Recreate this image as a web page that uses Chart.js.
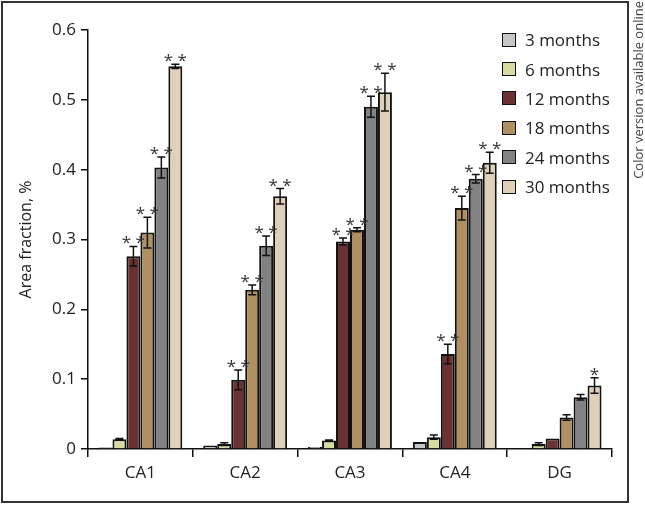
<!DOCTYPE html>
<html>
<head>
<meta charset="utf-8">
<script src="https://cdn.jsdelivr.net/npm/chart.js@4"></script>
<style>
  body { margin: 0; background: #fff; font-family: "Open Sans", sans-serif; }
  #wrap { position: relative; width: 645px; height: 505px; }
  #frame { position: absolute; left: 1px; top: 1px; width: 628px; height: 502px; box-sizing: border-box; border: 2px solid #333; pointer-events: none; }
  #note { position: absolute; left: 630px; top: 1px; writing-mode: vertical-rl; transform: rotate(180deg); font-size: 13px; color: #444; line-height: 16px; white-space: nowrap; }
  #legend { position: absolute; left: 502px; top: 25px; }
  .item { height: 29.4px; display: flex; align-items: center; font-size: 17px; color: #222; }
  .box { width: 12px; height: 12px; border: 1.5px solid #111; margin-right: 9px; }
</style>
</head>
<body>
<div id="wrap">
  <canvas id="chart" width="645" height="505"></canvas>
  <div id="frame"></div>
  <div id="note">Color version available online</div>
  <div id="legend"></div>
</div>
<script>
const categories = ["CA1", "CA2", "CA3", "CA4", "DG"];
const seriesLabels = ["3 months", "6 months", "12 months", "18 months", "24 months", "30 months"];
const colors = ["#c6c6c6", "#d9d9a2", "#6a3232", "#b09062", "#828282", "#dfd1b9"];

const m3 = [0.002, 0.005, 0.003, 0.010, 0.001];
const m6 = [0.014, 0.007, 0.012, 0.017, 0.007];
const m12 = [0.276, 0.099, 0.297, 0.136, 0.015];
const m18 = [0.310, 0.228, 0.314, 0.345, 0.045];
const m24 = [0.403, 0.291, 0.490, 0.387, 0.074];
const m30 = [0.548, 0.362, 0.511, 0.410, 0.091];

const e3 = [0, 0, 0, 0, 0];
const e6 = [0.001, 0.002, 0.001, 0.003, 0.002];
const e12 = [0.014, 0.014, 0.005, 0.014, 0];
const e18 = [0.022, 0.007, 0.003, 0.017, 0.004];
const e24 = [0.015, 0.014, 0.015, 0.006, 0.004];
const e30 = [0.003, 0.011, 0.027, 0.015, 0.011];

const s3 = ["", "", "", "", ""];
const s6 = ["", "", "", "", ""];
const s12 = ["**", "**", "**", "**", ""];
const s18 = ["**", "**", "**", "**", ""];
const s24 = ["**", "**", "**", "**", ""];
const s30 = ["**", "**", "**", "**", "*"];

const yTicks = [0, 0.1, 0.2, 0.3, 0.4, 0.5, 0.6];

const values = [m3, m6, m12, m18, m24, m30];
const errors = [e3, e6, e12, e18, e24, e30];
const stars = [s3, s6, s12, s18, s24, s30];

// legend
const legend = document.getElementById("legend");
seriesLabels.forEach((label, i) => {
  const row = document.createElement("div");
  row.className = "item";
  row.innerHTML = '<span class="box" style="background:' + colors[i] + '"></span>' + label;
  legend.appendChild(row);
});

const errorBars = {
  id: "errorBars",
  afterDatasetsDraw(chart) {
    const ctx = chart.ctx;
    const y = chart.scales.y;
    ctx.save();
    ctx.strokeStyle = "#111";
    ctx.lineWidth = 1.5;
    chart.data.datasets.forEach((ds, di) => {
      const meta = chart.getDatasetMeta(di);
      meta.data.forEach((bar, i) => {
        const v = ds.data[i];
        const e = errors[di][i];
        let top = y.getPixelForValue(v);
        if (e > 0) {
          top = y.getPixelForValue(v + e);
          const bot = y.getPixelForValue(v - e);
          ctx.beginPath();
          ctx.moveTo(bar.x, top);
          ctx.lineTo(bar.x, bot);
          ctx.moveTo(bar.x - 4, top);
          ctx.lineTo(bar.x + 4, top);
          ctx.moveTo(bar.x - 4, bot);
          ctx.lineTo(bar.x + 4, bot);
          ctx.stroke();
        }
        const s = stars[di][i];
        if (s) {
          ctx.fillStyle = "#333";
          ctx.font = "17px 'Open Sans'";
          ctx.textAlign = "center";
          ctx.textBaseline = "alphabetic";
          ctx.fillText(s.split("").join(" "), bar.x, top + 2);
        }
      });
    });
    ctx.restore();
  }
};

new Chart(document.getElementById("chart"), {
  type: "bar",
  data: {
    labels: categories,
    datasets: seriesLabels.map((label, i) => ({
      label: label,
      data: values[i],
      backgroundColor: colors[i],
      borderColor: "#111",
      borderWidth: 2,
      categoryPercentage: 0.8,
      barPercentage: 1.0,
    })),
  },
  options: {
    responsive: false,
    animation: false,
    layout: { padding: { top: 30, right: 33, bottom: 0, left: 0 } },
    plugins: {
      legend: { display: false },
      tooltip: { enabled: false },
    },
    scales: {
      x: {
        grid: { drawOnChartArea: false, drawTicks: true, tickLength: 8, color: "#111", lineWidth: 1.5 },
        border: { color: "#111", width: 1.5 },
        ticks: { color: "#222", font: { family: "Open Sans", size: 17 }, padding: 6 },
        afterFit(s) { s.height = 56; },
      },
      y: {
        min: 0,
        max: 0.6,
        afterBuildTicks(s) { s.ticks = yTicks.map(v => ({ value: v })); },
        grid: { drawOnChartArea: false, drawTicks: true, tickLength: 7, color: "#111", lineWidth: 1.5 },
        border: { color: "#111", width: 1.5 },
        ticks: { color: "#222", font: { family: "Open Sans", size: 17 }, padding: 5, callback: v => String(+v.toFixed(1)) },
        title: { display: true, text: "Area fraction, %", color: "#222", font: { family: "Open Sans", size: 16 }, padding: { top: 17, bottom: 0 } },
        afterFit(s) { s.width = 88; },
      },
    },
  },
  plugins: [errorBars],
});
</script>
</body>
</html>
